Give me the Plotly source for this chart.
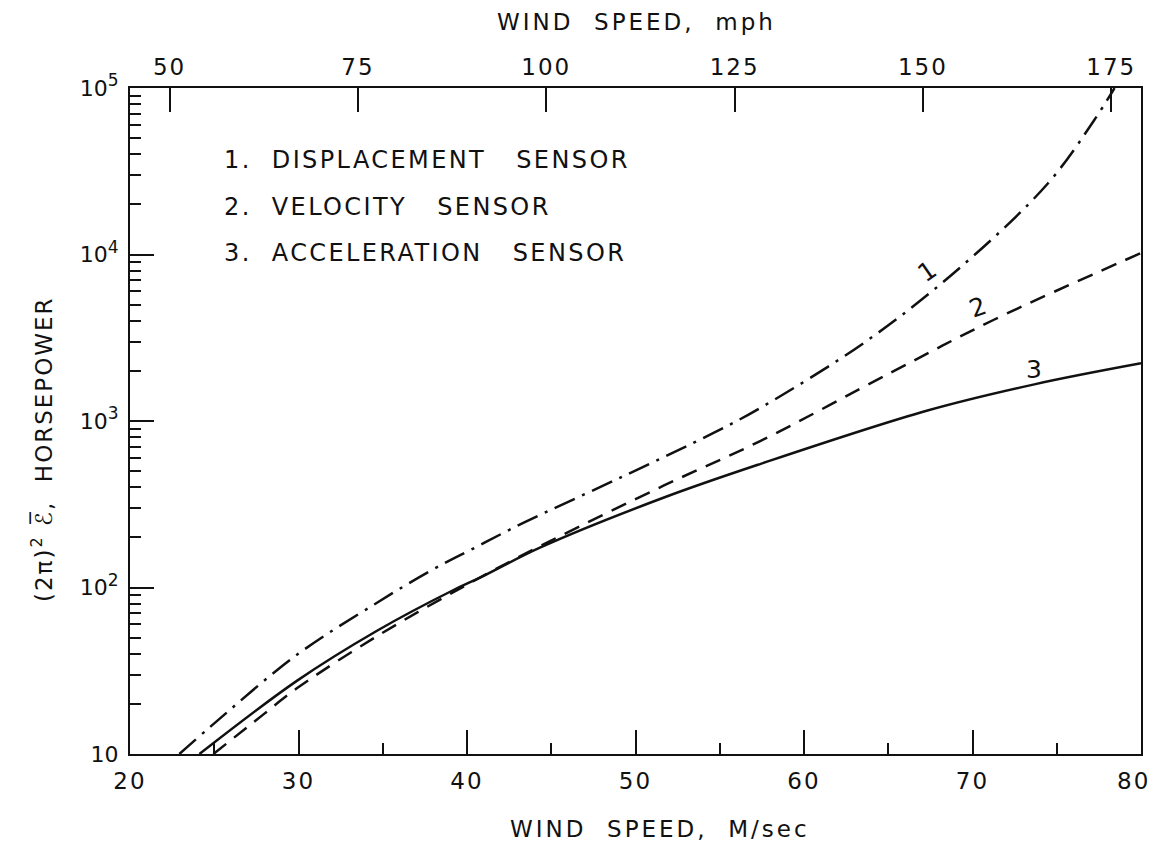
import plotly.graph_objects as go

MPH_PER_MS = 2.23694

# Wind speed (m/s) and (2pi)^2 E, horsepower
disp_x = [22.93, 24.81, 29.9, 34.66, 37.83, 40.4, 43.37, 49.1, 54.66, 57.43, 63.77, 69.3, 74.47, 77.24, 78.43]
disp_y = [10, 14.7, 39.4, 81, 126, 172, 245, 457, 851, 1202, 3050, 8410, 26700, 64500, 100000]

vel_x = [24.95, 27.92, 29.9, 34.66, 40.0, 44.75, 51.69, 57.43, 65.35, 71.3, 80.0]
vel_y = [10, 17.3, 24.8, 51, 104, 186, 410, 760, 2000, 4070, 10200]

acc_x = [24.12, 29.9, 34.66, 39.2, 40.8, 44.36, 51.69, 57.43, 67.33, 73.67, 80.0]
acc_y = [10, 27.5, 55, 96.6, 115, 174, 347, 553, 1156, 1660, 2220]

x_ticks = [20, 30, 40, 50, 60, 70, 80]
x_minor = [25, 35, 45, 55, 65, 75]
mph_ticks = [50, 75, 100, 125, 150, 175]
y_ticks = [10, 100, 1000, 10000, 100000]
y_exps = ["", "2", "3", "4", "5"]
y_minor = [m * 10 ** d for d in range(1, 5) for m in range(2, 10)]

legend_lines = ["1.  DISPLACEMENT   SENSOR", "2.  VELOCITY   SENSOR", "3.  ACCELERATION   SENSOR"]
curve_labels = [("1", 67.3, 3.90, -35), ("2", 70.3, 3.68, -20), ("3", 73.66, 3.31, 0)]

FONT = "DejaVu Sans"
INK = "#111111"


def sp(text, px=2):
    return f'<span style="letter-spacing:{px}px">{text}</span>'


y_ticktext = ["10" + (f'<sup><span style="font-size:17px">{e}</span></sup>' if e else "") for e in y_exps]
# last bottom label sits just inside the right frame edge, as in the original
x_ticktext = [sp(str(v), 2) for v in x_ticks[:-1]] + [sp(str(x_ticks[-1]), 2) + "\u00a0\u00a0"]

fig = go.Figure()
fig.add_trace(go.Scatter(x=disp_x, y=disp_y, mode="lines", line=dict(color=INK, width=2.5, dash="22px,8px,3px,8px", shape="spline", smoothing=1.0), showlegend=False))
fig.add_trace(go.Scatter(x=vel_x, y=vel_y, mode="lines", line=dict(color=INK, width=2.5, dash="16px,10px", shape="spline", smoothing=1.0), showlegend=False))
fig.add_trace(go.Scatter(x=acc_x, y=acc_y, mode="lines", line=dict(color=INK, width=2.5, shape="spline", smoothing=1.0), showlegend=False))
# carrier trace so the top (mph) axis is drawn
fig.add_trace(go.Scatter(x=mph_ticks, y=[None] * len(mph_ticks), xaxis="x2", mode="lines", showlegend=False, hoverinfo="skip"))

fig.update_layout(
    width=1158, height=849,
    margin=dict(l=130, r=17, t=88, b=95),
    paper_bgcolor="white", plot_bgcolor="white",
    font=dict(family=FONT, size=23, color=INK),
    xaxis=dict(
        range=[20, 80], showgrid=False, zeroline=False, automargin=False,
        showline=True, linecolor=INK, linewidth=2, mirror=True,
        tickmode="array", tickvals=x_ticks, ticktext=x_ticktext,
        ticks="inside", ticklen=24, tickwidth=2, tickcolor=INK,
        ticklabelstandoff=5, ticklabeloverflow="allow",
        minor=dict(tickmode="array", tickvals=x_minor, ticks="inside", ticklen=11, tickwidth=2, tickcolor=INK, showgrid=False),
        tickfont=dict(family=FONT, size=23, color=INK),
    ),
    xaxis2=dict(
        overlaying="x", side="top", anchor="y", automargin=False,
        range=[20 * MPH_PER_MS, 80 * MPH_PER_MS], showgrid=False, zeroline=False,
        showline=False,
        tickmode="array", tickvals=mph_ticks, ticktext=[sp(str(v), 2) for v in mph_ticks],
        ticks="inside", ticklen=24, tickwidth=2, tickcolor=INK,
        ticklabelstandoff=7, ticklabeloverflow="allow",
        tickfont=dict(family=FONT, size=23, color=INK),
    ),
    yaxis=dict(
        type="log", range=[1, 5], showgrid=False, zeroline=False, automargin=False,
        showline=True, linecolor=INK, linewidth=2, mirror=True,
        tickmode="array", tickvals=y_ticks, ticktext=y_ticktext,
        ticks="inside", ticklen=24, tickwidth=2, tickcolor=INK,
        ticklabelstandoff=5, ticklabeloverflow="allow",
        minor=dict(tickmode="array", tickvals=y_minor, ticks="inside", ticklen=11, tickwidth=2, tickcolor=INK, showgrid=False),
        tickfont=dict(family=FONT, size=22, color=INK),
    ),
)

# legend text block
for txt, py in zip(legend_lines, [160, 207, 253]):
    fig.add_annotation(
        xref="paper", yref="paper", x=(222 - 130) / 1011, y=(754 - py) / 666,
        xanchor="left", yanchor="middle", showarrow=False,
        text=sp(txt, 2.4), font=dict(family=FONT, size=24, color=INK),
    )

# curve number labels
for lab, lx, ly, ang in curve_labels:
    fig.add_annotation(x=lx, y=ly, xref="x", yref="y", text=lab, showarrow=False,
                       textangle=ang, font=dict(family=FONT, size=25, color=INK))

# axis titles
fig.add_annotation(xref="paper", yref="paper", x=(660 - 130) / 1011, y=(754 - 829) / 666,
                   xanchor="center", yanchor="middle", showarrow=False,
                   text=sp("WIND  SPEED,  M/sec", 3), font=dict(family=FONT, size=23, color=INK))
fig.add_annotation(xref="paper", yref="paper", x=(636 - 130) / 1011, y=(754 - 22) / 666,
                   xanchor="center", yanchor="middle", showarrow=False,
                   text=sp("WIND  SPEED,  mph", 3), font=dict(family=FONT, size=23, color=INK))
fig.add_annotation(xref="paper", yref="paper", x=(42 - 130) / 1011, y=(754 - 449) / 666,
                   xanchor="center", yanchor="middle", showarrow=False, textangle=-90,
                   text=sp("(2\u03c0)<sup>2</sup> \u2130\u0305,  HORSEPOWER", 2), font=dict(family=FONT, size=23, color=INK))

fig.write_html("out.html", config={"displayModeBar": False},
               post_script="document.body.style.margin='0';")
